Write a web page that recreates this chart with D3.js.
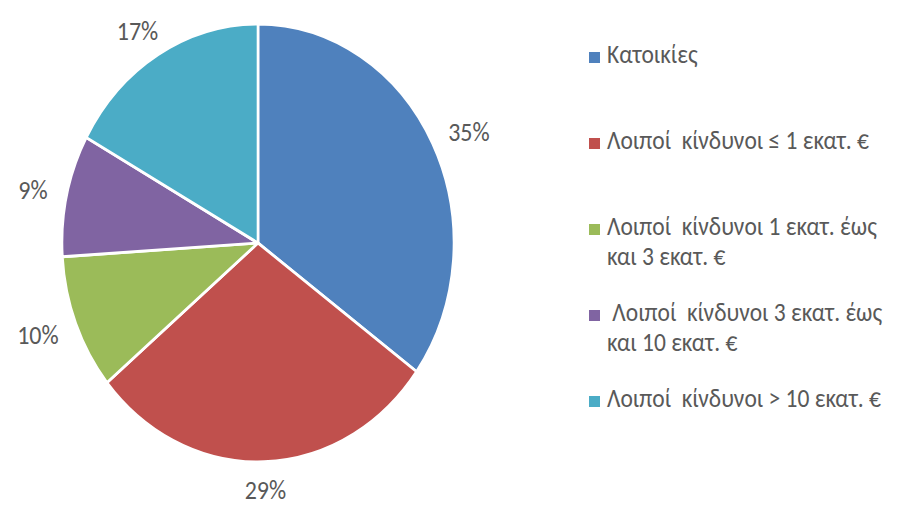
<!DOCTYPE html>
<html>
<head>
<meta charset="utf-8">
<script src="https://cdn.jsdelivr.net/npm/d3@7"></script>
<style>
  body { margin: 0; background: #fff; }
  svg text { font-family: Carlito, Calibri, "Open Sans", sans-serif; fill: #595959; white-space: pre; }
</style>
</head>
<body>
<svg id="chart" width="900" height="506"></svg>
<script>
// Chart data
const categories = [
  ['Κατοικίες'],
  ['Λοιποί  κίνδυνοι ≤ 1 εκατ. €'],
  ['Λοιποί  κίνδυνοι 1 εκατ. έως', 'και 3 εκατ. €'],
  [' Λοιποί  κίνδυνοι 3 εκατ. έως', 'και 10 εκατ. €'],
  ['Λοιποί  κίνδυνοι > 10 εκατ. €']
];
const values = [35, 29, 10, 9, 17];
const colors = ['#4F81BD', '#C0504D', '#9BBB59', '#8064A2', '#4BACC6'];

const stretch = 1.117; // the picture is a bit taller than wide
const radius = 196;
const cx = 258, cy = 243;

let svg = d3.select('#chart');

// Pie, drawn as a circle and stretched vertically
let pieG = svg.append('g')
  .attr('transform', `translate(${cx},${cy}) scale(1,${stretch})`);

let pie = d3.pie().sort(null).value(d => d);
let arc = d3.arc().innerRadius(0).outerRadius(radius);
let arcs = pie(values);

pieG.selectAll('path')
  .data(arcs)
  .enter().append('path')
  .attr('d', arc)
  .attr('fill', (d, i) => colors[i])
  .attr('stroke', '#fff')
  .attr('stroke-width', 2.6)
  .attr('stroke-linejoin', 'round');

// Data labels sit just outside the edge, pushed out by half their own size
let labelG = svg.append('g');
arcs.forEach(d => {
  let a = (d.startAngle + d.endAngle) / 2;
  let px = cx + 216 * Math.sin(a);
  let py = cy - 212 * stretch * Math.cos(a);
  let t = labelG.append('text')
    .attr('text-anchor', 'middle')
    .attr('dy', '0.36em')
    .style('font-size', '24px')
    .text(`${d.data}%`);
  let w = t.node().getComputedTextLength();
  let h = 20;
  t.attr('transform', `translate(${px + w / 2 * Math.sin(a)},${py - h / 2 * Math.cos(a)}) scale(1,${stretch})`);
});

// Legend
let rowY = d3.scalePoint().domain(d3.range(categories.length)).range([63, 407]);

let legend = svg.append('g');
let rows = legend.selectAll('g')
  .data(categories)
  .enter().append('g')
  .attr('transform', (d, i) => `translate(0,${rowY(i)})`);

rows.append('rect')
  .attr('x', 589)
  .attr('y', -11)
  .attr('width', 11)
  .attr('height', 11)
  .attr('fill', (d, i) => colors[i]);

rows.each(function (lines) {
  let row = d3.select(this);
  lines.forEach((line, j) => {
    row.append('text')
      .attr('transform', `translate(607,${j * 30}) scale(1,${stretch})`)
      .style('font-size', '23.5px')
      .text(line);
  });
});
</script>
</body>
</html>
